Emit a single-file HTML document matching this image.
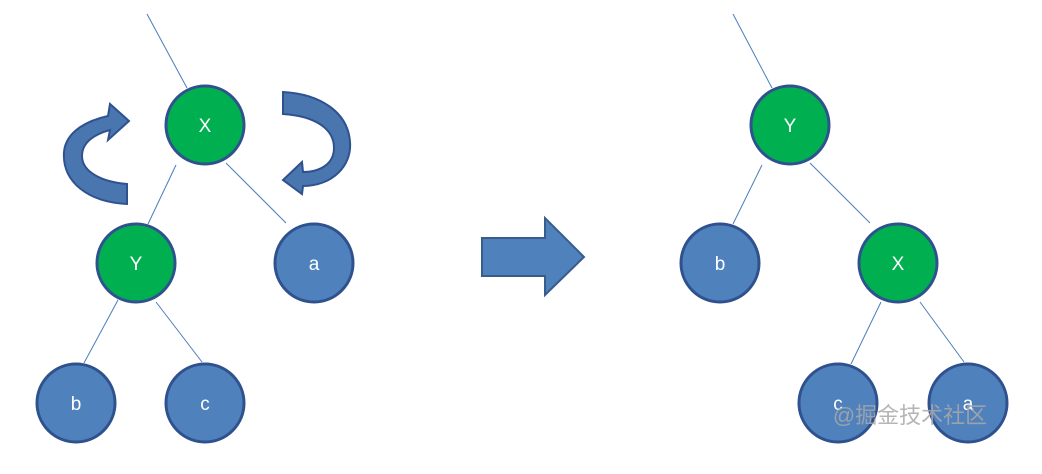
<!DOCTYPE html>
<html><head><style>html,body{margin:0;padding:0;background:#fff;width:1042px;height:474px;overflow:hidden}</style></head>
<body>
<svg width="1042" height="474" viewBox="0 0 1042 474" xmlns="http://www.w3.org/2000/svg" font-family="Liberation Sans, sans-serif">
<g stroke="#4a7ebb" stroke-width="1">
<line x1="147" y1="14" x2="187" y2="88"/>
<line x1="176" y1="165" x2="148" y2="224"/>
<line x1="226" y1="163" x2="286" y2="223"/>
<line x1="118" y1="300" x2="84" y2="363"/>
<line x1="156" y1="302" x2="202" y2="362"/>
<line x1="733" y1="14" x2="772" y2="88"/>
<line x1="762" y1="165" x2="733" y2="224"/>
<line x1="810" y1="163" x2="870" y2="223"/>
<line x1="881" y1="302" x2="851" y2="364"/>
<line x1="920" y1="302" x2="964" y2="362"/>
</g>
<g stroke="#2f528f" stroke-width="3">
<circle cx="205" cy="125" r="39" fill="#00b050"/>
<circle cx="136" cy="263" r="39" fill="#00b050"/>
<circle cx="314" cy="263" r="39" fill="#4f81bd"/>
<circle cx="76" cy="403" r="39" fill="#4f81bd"/>
<circle cx="205" cy="403" r="39" fill="#4f81bd"/>
<circle cx="790" cy="125" r="39" fill="#00b050"/>
<circle cx="720" cy="263" r="39" fill="#4f81bd"/>
<circle cx="898" cy="263" r="39" fill="#00b050"/>
<circle cx="838" cy="403" r="39" fill="#4f81bd"/>
<circle cx="968" cy="403" r="39" fill="#4f81bd"/>
</g>
<g fill="#fff" font-size="19" text-anchor="middle">
<text x="205" y="132">X</text><text x="136" y="270">Y</text><text x="314" y="270">a</text>
<text x="76" y="410">b</text><text x="205" y="410">c</text>
<text x="790" y="132">Y</text><text x="720" y="270">b</text><text x="898" y="270">X</text>
<text x="838" y="410">c</text><text x="968" y="410">a</text>
</g>
<path d="M482,238 L545,238 L545,218 L584,257 L545,295 L545,276 L482,276 Z" fill="#4f81bd" stroke="#385d8a" stroke-width="2"/>
<path d="M127,184 L127,204 C88,202 62,182 64,152 C66,130 90,120 108,116 L110,104 L129,121 L108,140 L110,130 C95,134 82,142 82,156 C82,172 102,182 127,184 Z" fill="#4a76b0" stroke="#2f528f" stroke-width="2"/>
<path d="M283,92 L283,114 C314,116 334,128 334,148 C334,164 320,172 303,172 L302,162 L283,180 L302,194 L303,186 C332,186 352,166 350,142 C348,112 320,94 283,92 Z" fill="#4a76b0" stroke="#2f528f" stroke-width="2"/>
<text x="910" y="423" font-family="Liberation Sans, Noto Sans CJK SC, sans-serif" font-size="22" fill="#a8a8a8" fill-opacity="0.85" text-anchor="middle">@掘金技术社区</text>
</svg>
</body></html>
